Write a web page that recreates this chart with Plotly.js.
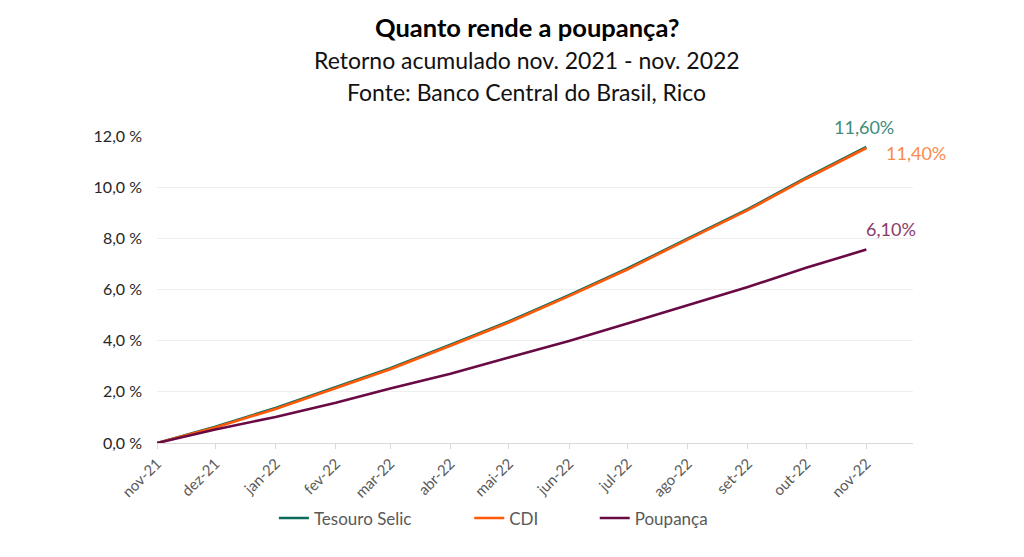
<!DOCTYPE html>
<html>
<head>
<meta charset="utf-8">
<script src="https://cdn.plot.ly/plotly-3.0.1.min.js"></script>
<style>html,body{margin:0;padding:0;background:#fff;}#chart{width:1024px;height:557px;}</style>
</head>
<body>
<div id="chart"></div>
<script>
// Data (cumulative return, %)
const dates = ['2021-11-01','2021-12-01','2022-01-01','2022-02-01','2022-03-01','2022-04-01','2022-05-01','2022-06-01','2022-07-01','2022-08-01','2022-09-01','2022-10-01','2022-11-01'];
const tesouroSelic = [0, 0.64, 1.37, 2.19, 2.92, 3.84, 4.75, 5.78, 6.82, 7.99, 9.14, 10.37, 11.57];
const cdi = [0, 0.61, 1.33, 2.15, 2.88, 3.80, 4.71, 5.74, 6.78, 7.95, 9.10, 10.33, 11.53];
const poupanca = [0, 0.53, 1.02, 1.57, 2.13, 2.71, 3.34, 3.99, 4.67, 5.38, 6.10, 6.85, 7.56];

const tickDates = dates;
const tickLabels = ['nov-21','dez-21','jan-22','fev-22','mar-22','abr-22','mai-22','jun-22','jul-22','ago-22','set-22','out-22','nov-22'];
const yTicks = [0, 2, 4, 6, 8, 10, 12];
const yTickLabels = ['0,0 %','2,0 %','4,0 %','6,0 %','8,0 %','10,0 %','12,0 %'];

const endLabels = ['11,60%', '11,40%', '6,10%'];

const FONT = 'Lato, "Open Sans", sans-serif';

const traces = [
  {x: dates, y: tesouroSelic, name: 'Tesouro Selic', mode: 'lines', line: {color: '#0d6b5b', width: 2.6}, legend: 'legend'},
  {x: dates, y: cdi, name: 'CDI', mode: 'lines', line: {color: '#ff5a0a', width: 2.6}, legend: 'legend2'},
  {x: dates, y: poupanca, name: 'Poupança', mode: 'lines', line: {color: '#6a0a45', width: 2.6}, legend: 'legend3'}
];

const legendBase = {orientation: 'h', yanchor: 'middle', y: -0.246, xanchor: 'left',
  font: {family: FONT, size: 17, color: '#595959'}, bgcolor: 'rgba(0,0,0,0)'};

const layout = {
  width: 1024, height: 557,
  margin: {l: 157, r: 111, t: 136, b: 114},
  paper_bgcolor: '#ffffff', plot_bgcolor: '#ffffff',
  font: {family: FONT, color: '#404040'},
  hovermode: false,
  showlegend: true,
  legend: Object.assign({}, legendBase, {x: 0.1546}),
  legend2: Object.assign({}, legendBase, {x: 0.413}),
  legend3: Object.assign({}, legendBase, {x: 0.579}),
  xaxis: {
    type: 'date', range: ['2021-11-01', '2022-11-25'],
    tickmode: 'array', tickvals: tickDates, ticktext: tickLabels, tickangle: -45,
    ticks: 'outside', ticklen: 5, tickcolor: '#d9d9d9',
    showline: true, linecolor: '#d9d9d9', linewidth: 1,
    showgrid: false, zeroline: false,
    tickfont: {family: FONT, size: 15, color: '#595959'}
  },
  yaxis: {
    range: [0, 12], tickmode: 'array', tickvals: yTicks, ticktext: yTickLabels,
    showgrid: true, gridcolor: '#efefef', gridwidth: 1, zeroline: false,
    showline: false, ticks: '', ticklabelstandoff: 14,
    tickfont: {family: FONT, size: 16, color: '#262626'}
  },
  annotations: [
    {xref: 'paper', yref: 'paper', x: 0.4894, y: 1.356, xanchor: 'center', yanchor: 'middle', showarrow: false,
     text: '<b>Quanto rende a poupança?</b>', font: {family: FONT, size: 25.5, color: '#000000'}},
    {xref: 'paper', yref: 'paper', x: 0.4894, y: 1.2466, xanchor: 'center', yanchor: 'middle', showarrow: false,
     text: 'Retorno acumulado nov. 2021 - nov. 2022', font: {family: FONT, size: 23, color: '#111111'}},
    {xref: 'paper', yref: 'paper', x: 0.4894, y: 1.1424, xanchor: 'center', yanchor: 'middle', showarrow: false,
     text: 'Fonte: Banco Central do Brasil, Rico', font: {family: FONT, size: 23, color: '#111111'}},
    {xref: 'paper', yref: 'paper', x: 0.9352, y: 1.0293, xanchor: 'center', yanchor: 'middle', showarrow: false,
     text: endLabels[0], font: {family: FONT, size: 18, color: '#3d8c7c'}},
    {xref: 'paper', yref: 'paper', x: 1.004, y: 0.9446, xanchor: 'center', yanchor: 'middle', showarrow: false,
     text: endLabels[1], font: {family: FONT, size: 18, color: '#fb8a4c'}},
    {xref: 'paper', yref: 'paper', x: 0.971, y: 0.697, xanchor: 'center', yanchor: 'middle', showarrow: false,
     text: endLabels[2], font: {family: FONT, size: 18, color: '#8a3a6c'}}
  ]
};

Plotly.newPlot('chart', traces, layout, {displayModeBar: false, staticPlot: true});
</script>
</body>
</html>
